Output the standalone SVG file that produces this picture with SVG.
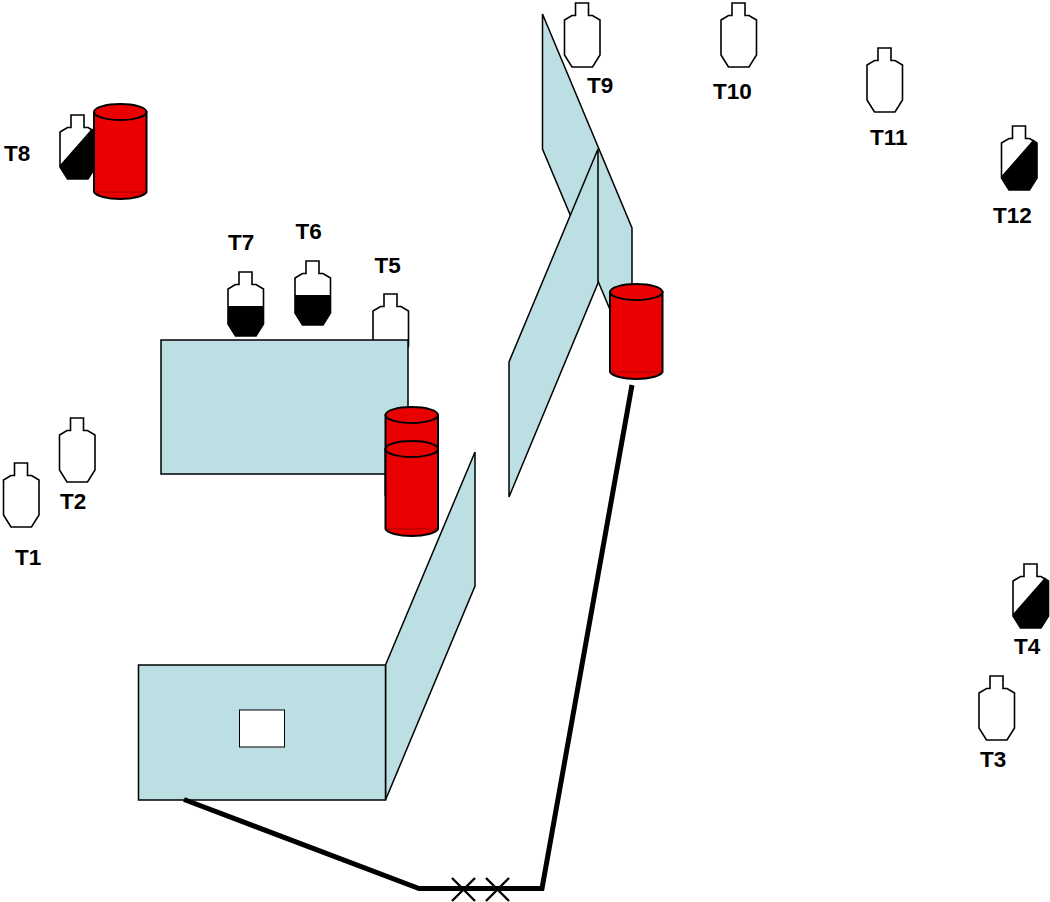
<svg xmlns="http://www.w3.org/2000/svg" xmlns:xlink="http://www.w3.org/1999/xlink" width="1050" height="902" viewBox="0 0 1050 902">
<style>
text{font-family:"Liberation Sans",Arial,sans-serif;font-weight:700;font-size:22.5px;fill:#000}
.outline{fill:#fff;stroke:#000;stroke-width:1.6;stroke-linejoin:miter}
.ink{fill:#000;stroke:none}
.panel{fill:#bbdfe3;stroke:#000;stroke-width:1.5;stroke-linejoin:miter}
.red{fill:#ea0000;stroke:#000;stroke-width:2}
.seam{fill:none;stroke:#a00000;stroke-width:1}
.conn{fill:none;stroke:#000;stroke-width:5;stroke-linejoin:miter}
.x{fill:none;stroke:#000;stroke-width:2.4}
</style>
<defs>
<path id="t-shape" d="M11 0H24V12.5H28L35.5 17V52L28 64H7.5L0 52V17L7.5 12.5H11Z"/>
<path id="t-diag" d="M0 50L32 13.5L35.5 17V52L28 64H7.5L0 52Z"/>
<path id="t-half" d="M0 34H35.5V52L28 64H7.5L0 52Z"/>
<g id="target"><use href="#t-shape" class="outline"/></g>
<g id="target-diag"><use href="#t-shape" class="outline"/><use href="#t-diag" class="ink"/></g>
<g id="target-half"><use href="#t-shape" class="outline"/><use href="#t-half" class="ink"/></g>
<g id="barrel">
<path class="red" d="M0 8V88A26.5 8 0 0 0 52.5 88V8Z"/>
<path class="seam" d="M1 88H51.5"/>
<ellipse class="red" cx="26.25" cy="8" rx="26.25" ry="8"/>
</g>
</defs>

<g id="T1"><use href="#target" x="3.5" y="463"/><text x="15" y="565">T1</text></g>
<g id="T2"><use href="#target" x="59.5" y="418"/><text x="60" y="508.5">T2</text></g>
<g id="T3"><use href="#target" x="979" y="676"/><text x="980" y="766.5">T3</text></g>
<g id="T4"><use href="#target-diag" x="1013" y="564"/><text x="1014" y="653.5">T4</text></g>
<g id="T5"><use href="#target" x="373" y="294"/><text x="374.5" y="273">T5</text></g>
<g id="T6"><use href="#target-half" x="295" y="261"/><text x="295.5" y="238.5">T6</text></g>
<g id="T7"><use href="#target-half" x="228" y="272"/><text x="228" y="250">T7</text></g>
<g id="T8"><use href="#target-diag" x="60" y="115"/><text x="4" y="161">T8</text></g>
<g id="T9"><use href="#target" x="564.5" y="3"/><text x="587" y="93">T9</text></g>
<g id="T10"><use href="#target" x="721" y="3"/><text x="713" y="99">T10</text></g>
<g id="T11"><use href="#target" x="867" y="48"/><text x="870" y="145">T11</text></g>
<g id="T12"><use href="#target-diag" x="1001.5" y="126"/><text x="993" y="223">T12</text></g>

<g id="wall-upper-left"><rect class="panel" x="161" y="340" width="247" height="134"/></g>
<g id="wall-lower-side"><polygon class="panel" points="385.5,665 475,452 475,586 385.5,800"/></g>
<g id="wall-lower"><rect class="panel" x="138.5" y="665" width="247" height="135"/><rect x="239.5" y="710" width="45" height="37" fill="#fff" stroke="#000" stroke-width="1"/></g>
<g id="wall-right-back"><polygon class="panel" points="542.5,14 632,228 632,362 542.5,149"/></g>
<g id="wall-right-front"><polygon class="panel" points="598,149 598,283 509,497 509,362"/></g>

<g id="barrel-t8"><use href="#barrel" x="94" y="104"/></g>
<g id="barrel-stack-top"><use href="#barrel" x="385.5" y="407"/></g>
<g id="barrel-stack-bottom"><use href="#barrel" x="385.5" y="441"/></g>
<g id="barrel-right"><use href="#barrel" x="610" y="284"/></g>

<g id="connectors">
<path class="conn" d="M184 799.5L419 888.5H542L632 385"/>
<path class="x" d="M452 878L475 901M475 878L452 901M486 878L509 901M509 878L486 901"/>
</g>
</svg>
